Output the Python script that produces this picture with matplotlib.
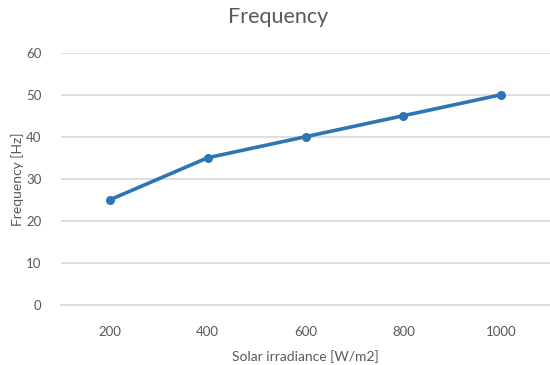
import matplotlib.pyplot as plt

# irradiance steps and measured frequency
irradiance = ['200', '400', '600', '800', '1000']
frequency = [25, 35, 40, 45, 50]

grey = '#595959'
plt.rcParams['font.family'] = ['Lato', 'DejaVu Sans']

fig = plt.figure(figsize=(5.5, 3.65), dpi=100)
ax = fig.add_axes([0.111, 0.165, 0.889, 0.6906])

ax.plot(range(len(irradiance)), frequency, color='#2E75B6', linewidth=2.6,
        marker='o', markersize=5.5, zorder=3)

ax.set_xlim(-0.5, len(irradiance) - 0.5)
ax.set_ylim(0, 60)
ax.set_yticks(range(0, 61, 10))
ax.set_xticks(range(len(irradiance)))
ax.set_xticklabels(irradiance)

ax.grid(axis='y', color='#D9D9D9', linewidth=1.2)
ax.set_axisbelow(True)
for s in ['top', 'right', 'left']:
    ax.spines[s].set_visible(False)
ax.spines['bottom'].set_color('#D9D9D9')
ax.spines['bottom'].set_linewidth(1.2)
ax.tick_params(length=0, labelsize=9.5, colors=grey)
ax.tick_params(axis='x', pad=15)
ax.tick_params(axis='y', pad=14)

fig.text(0.505, 0.953, 'Frequency', fontsize=15.5, color=grey,
         ha='center', va='center')
ax.set_xlabel('Solar irradiance [W/m2]', fontsize=10, color=grey, labelpad=9)
fig.text(18 / 550, 0.51, 'Frequency [Hz]', fontsize=10, color=grey,
         rotation=90, ha='center', va='center')

fig.savefig('out.png', dpi=100)
